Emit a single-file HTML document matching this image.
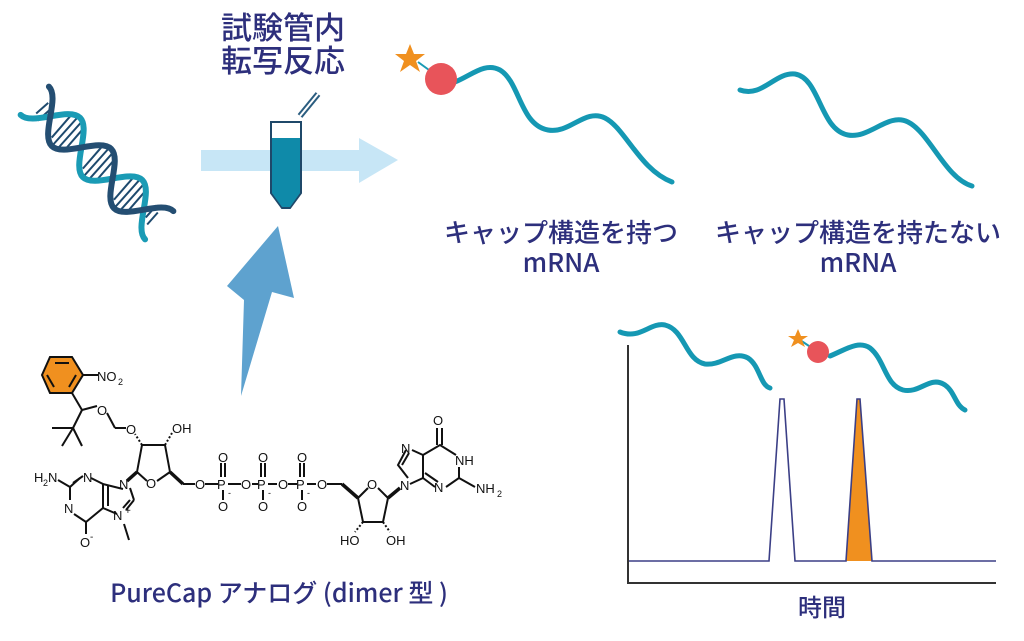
<!DOCTYPE html>
<html><head><meta charset="utf-8"><style>
html,body{margin:0;padding:0;background:#fff;}
svg{display:block}
.t{font-family:"Noto Sans CJK JP","Liberation Sans",sans-serif;fill:#2d2f7c;font-weight:500;}
.c{font-family:"Liberation Sans",sans-serif;font-size:13px;fill:#111;}
</style></head><body>
<svg width="1024" height="641" viewBox="0 0 1024 641" xmlns="http://www.w3.org/2000/svg">
<g transform="translate(97,163) rotate(45)">
  <g stroke="#1e4a6e" stroke-width="2">
    <line x1="-52" y1="-14" x2="-50" y2="14"/><line x1="-46" y1="-18" x2="-44" y2="18"/><line x1="-40" y1="-18" x2="-38" y2="18"/><line x1="-34" y1="-14" x2="-32" y2="14"/>
    <line x1="-8" y1="-14" x2="-6" y2="14"/><line x1="-2" y1="-18" x2="0" y2="18"/><line x1="4" y1="-18" x2="6" y2="18"/><line x1="10" y1="-14" x2="12" y2="14"/>
    <line x1="36" y1="-14" x2="38" y2="14"/><line x1="42" y1="-18" x2="44" y2="18"/><line x1="48" y1="-18" x2="50" y2="18"/><line x1="54" y1="-14" x2="56" y2="14"/>
    <line x1="-78" y1="8" x2="-77" y2="-8"/><line x1="-72" y1="12" x2="-71" y2="-4"/>
    <line x1="72" y1="-12" x2="73" y2="4"/><line x1="78" y1="-8" x2="79" y2="8"/>
  </g>
  <path d="M-88,20 C-72,20 -60,-20 -44,-20 C-28,-20 -16,20 0,20 C16,20 28,-20 44,-20 C60,-20 72,20 88,20" fill="none" stroke="#1a9bb5" stroke-width="6" stroke-linecap="round"/>
  <path d="M-88,-20 C-72,-20 -60,20 -44,20 C-28,20 -16,-20 0,-20 C16,-20 28,20 44,20 C60,20 72,-20 88,-20" fill="none" stroke="#244e72" stroke-width="6" stroke-linecap="round"/>
</g>
<rect x="201" y="150" width="160" height="21" fill="#c7e6f6"/>
<polygon points="359,138 398,160 359,183" fill="#c7e6f6"/>
<line x1="300" y1="116" x2="318" y2="94" stroke="#2b5d80" stroke-width="6"/>
<line x1="300" y1="116" x2="318" y2="94" stroke="#fff" stroke-width="2"/>
<path d="M271,122 H301 V193 L290,208 H282 L271,193 Z" fill="#fff" stroke="#1f4869" stroke-width="2"/>
<path d="M272,138 H300 V193 L290,207 H282 L272,193 Z" fill="#0f8aa9"/>
<polygon points="278,226 294,298 272,292 241,396 244,300 227,286" fill="#5ea2cf"/>
<text class="t" x="283" y="39" font-size="31" text-anchor="middle">試験管内</text>
<text class="t" x="283" y="72" font-size="31" text-anchor="middle">転写反応</text>
<line x1="418" y1="62" x2="440" y2="78" stroke="#1a9bb5" stroke-width="2"/>
<path d="M455,82 C472,75 485,62 500,70 C520,82 520,125 548,130 C570,134 585,108 605,118 C625,128 640,170 672,182" fill="none" stroke="#1598b3" stroke-width="5" stroke-linecap="round"/>
<circle cx="441" cy="79" r="16" fill="#e8545a"/>
<polygon points="410,44 414,54 425,54 416,61 420,72 410,65 400,72 404,61 395,54 406,54" fill="#f0901f"/>
<path d="M740,90 C762,98 775,72 795,74 C820,78 820,130 848,135 C870,139 888,112 908,122 C930,133 945,178 972,186" fill="none" stroke="#1598b3" stroke-width="5" stroke-linecap="round"/>
<text class="t" x="561" y="242" font-size="26" text-anchor="middle">キャップ構造を持つ</text>
<text class="t" x="561" y="272" font-size="26" text-anchor="middle">mRNA</text>
<text class="t" x="858" y="242" font-size="26" text-anchor="middle">キャップ構造を持たない</text>
<text class="t" x="858" y="272" font-size="26" text-anchor="middle">mRNA</text>
<line x1="628" y1="345" x2="628" y2="584" stroke="#333" stroke-width="2"/>
<line x1="627" y1="583" x2="996" y2="583" stroke="#333" stroke-width="2"/>
<polygon points="846,561 857,399 860,399 872,561" fill="#f0901f"/>
<polyline points="629,561 769,561 780,399 784,399 795,561 846,561 857,399 860,399 872,561 996,561" fill="none" stroke="#3b3f86" stroke-width="1.6"/>
<path d="M620,332 C640,340 650,322 665,325 C685,330 685,360 705,364 C722,366 733,350 748,358 C760,366 760,385 770,388" fill="none" stroke="#1598b3" stroke-width="5" stroke-linecap="round"/>
<path d="M830,356 C845,350 858,340 870,348 C885,360 885,385 903,390 C920,394 930,375 945,385 C955,392 955,405 965,410" fill="none" stroke="#1598b3" stroke-width="5" stroke-linecap="round"/>
<line x1="800" y1="340" x2="818" y2="352" stroke="#1a9bb5" stroke-width="2"/>
<circle cx="818" cy="352" r="11" fill="#e8545a"/>
<polygon points="798,329 801,336 808,336 802,340 805,347 798,343 791,347 794,340 788,336 795,336" fill="#f0901f"/>
<text class="t" x="822" y="616" font-size="24" text-anchor="middle">時間</text>
<text class="t" x="279" y="602" font-size="25" text-anchor="middle">PureCap アナログ (dimer 型 )</text>
<g stroke="#111" stroke-width="2" fill="none">
  <polygon points="50,357 72,357 83,375 72,393 50,393 42,375" fill="#f0901f"/>
  <line x1="55" y1="363" x2="69" y2="363"/><line x1="76" y1="375" x2="69" y2="387"/><line x1="47" y1="375" x2="54" y2="387"/>
  <line x1="83" y1="375" x2="98" y2="375"/>
  <line x1="72" y1="393" x2="82" y2="410"/>
  <line x1="82" y1="410" x2="97" y2="406"/>
  <line x1="107" y1="413" x2="115" y2="428"/><line x1="115" y1="428" x2="126" y2="428"/>
  <line x1="82" y1="410" x2="73" y2="428"/><line x1="73" y1="428" x2="52" y2="428"/><line x1="73" y1="428" x2="62" y2="446"/><line x1="73" y1="428" x2="82" y2="446"/>
  <polyline points="137,472 142,445 165,445 170,472"/>
  <line x1="137" y1="472" x2="147" y2="481"/><line x1="157" y1="481" x2="170" y2="472"/>
  <line x1="142" y1="445" x2="135" y2="434" stroke-dasharray="2 2"/>
  <line x1="165" y1="445" x2="172" y2="433" stroke-dasharray="2 2"/>
  <line x1="137" y1="472" x2="127" y2="481" stroke-width="3.5"/>
  <line x1="170" y1="472" x2="183" y2="484" stroke-width="3.5"/>
  <line x1="183" y1="484" x2="195" y2="484"/>
  <line x1="205" y1="484" x2="218" y2="484"/><line x1="228" y1="484" x2="241" y2="484"/><line x1="252" y1="484" x2="258" y2="484"/><line x1="268" y1="484" x2="277" y2="484"/><line x1="288" y1="484" x2="297" y2="484"/><line x1="307" y1="484" x2="316" y2="484"/><line x1="327" y1="484" x2="342" y2="484"/>
  <line x1="221" y1="463" x2="221" y2="477"/><line x1="225" y1="463" x2="225" y2="477"/>
  <line x1="261" y1="463" x2="261" y2="477"/><line x1="265" y1="463" x2="265" y2="477"/>
  <line x1="300" y1="463" x2="300" y2="477"/><line x1="304" y1="463" x2="304" y2="477"/>
  <line x1="223" y1="490" x2="223" y2="500"/><line x1="263" y1="490" x2="263" y2="500"/><line x1="302" y1="490" x2="302" y2="500"/>
  <line x1="342" y1="484" x2="358" y2="498" stroke-width="3.5"/>
  <polyline points="358,498 363,522 383,522 388,498"/>
  <line x1="358" y1="498" x2="368" y2="488"/><line x1="378" y1="488" x2="388" y2="498"/>
  <line x1="388" y1="498" x2="400" y2="488" stroke-width="3.5"/>
  <line x1="363" y1="522" x2="355" y2="532" stroke-dasharray="2 2"/><line x1="383" y1="522" x2="390" y2="532" stroke-dasharray="2 2"/>
  <polyline points="408,478 398,465 406,450"/><line x1="402" y1="465" x2="409" y2="453"/>
  <polyline points="412,450 423,455 423,478 410,484"/>
  <polyline points="423,455 440,445 456,455"/><line x1="437" y1="445" x2="437" y2="428"/><line x1="442" y1="445" x2="442" y2="428"/>
  <polyline points="459,467 459,478 446,487"/><line x1="435" y1="487" x2="423" y2="478"/><line x1="438" y1="482" x2="425" y2="473"/>
  <line x1="459" y1="478" x2="475" y2="487"/>
  <polyline points="123,489 103,484 103,508 117,514"/><line x1="130" y1="488" x2="134" y2="500"/><line x1="134" y1="500" x2="126" y2="510"/><line x1="130" y1="500" x2="123" y2="508"/>
  <line x1="108" y1="486" x2="108" y2="506"/>
  <polyline points="103,484 91,478"/><polyline points="80,478 70,487 70,500"/><line x1="73" y1="483" x2="83" y2="476" />
  <polyline points="74,514 86,522 103,508"/><line x1="86" y1="522" x2="86" y2="534"/>
  <line x1="58" y1="480" x2="70" y2="487"/>
  <line x1="124" y1="524" x2="129" y2="540"/>
</g>
<g class="c">
  <text x="97" y="381">NO</text><text x="118" y="385" font-size="9">2</text>
  <text x="97" y="415">O</text>
  <text x="126" y="434">O</text>
  <text x="172" y="433">OH</text>
  <text x="146" y="488">O</text>
  <text x="195" y="489">O</text><text x="217" y="489">P</text><text x="218" y="462">O</text><text x="218" y="511">O</text><text x="228" y="496" font-size="9">-</text>
  <text x="241" y="489">O</text><text x="257" y="489">P</text><text x="258" y="462">O</text><text x="258" y="511">O</text><text x="268" y="496" font-size="9">-</text>
  <text x="278" y="489">O</text><text x="296" y="489">P</text><text x="297" y="462">O</text><text x="297" y="511">O</text><text x="307" y="496" font-size="9">-</text>
  <text x="317" y="489">O</text>
  <text x="367" y="489">O</text>
  <text x="340" y="545">HO</text><text x="386" y="545">OH</text>
  <text x="400" y="490">N</text><text x="401" y="453">N</text><text x="433" y="425">O</text>
  <text x="455" y="465">NH</text><text x="434" y="492">N</text><text x="476" y="493">NH</text><text x="497" y="497" font-size="9">2</text>
  <text x="119" y="489">N</text><text x="83" y="482">N</text><text x="64" y="513">N</text><text x="113" y="520">N</text><text x="125" y="514" font-size="10">+</text>
  <text x="34" y="482">H</text><text x="43" y="486" font-size="9">2</text><text x="48" y="482">N</text>
  <text x="80" y="547">O</text><text x="90" y="540" font-size="10">-</text>
</g>
</svg>
</body></html>
